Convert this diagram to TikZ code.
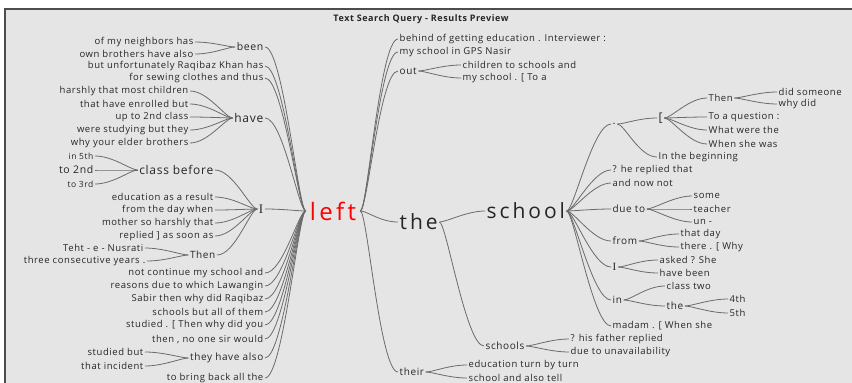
\documentclass[tikz,border=0pt]{standalone}
\usepackage{fontspec}
\setmainfont{Open Sans}
\newfontfamily\wa[LetterSpace=6]{Open Sans}
\newfontfamily\wb[LetterSpace=14]{Open Sans}
\newfontfamily\serI{Liberation Serif}
\tikzset{
  lt/.style={anchor=east},
  rt/.style={anchor=west},
  sz/.style={font=\wa\fontsize{#1}{#1}\selectfont},
  bg/.style={font=\wb\fontsize{#1}{#1}\selectfont},
  si/.style={font=\serI\fontsize{#1}{#1}\selectfont},
  lb/.style={out=180,in=0,out distance=7pt,in distance=18pt},
  rb/.style={out=0,in=180,out distance=7pt,in distance=18pt},
}
\begin{document}
\begin{tikzpicture}[x=1pt,y=-1pt,
  every node/.style={inner sep=1.5pt,text=black!85,font=\wa\fontsize{9.5}{10}\selectfont},
  every edge/.style={draw=black!58,line width=0.8pt}]
	\useasboundingbox (0,0) rectangle (852,383);
	\fill[white] (0,0) rectangle (852,383);
	\fill[black!10] (5,9) rectangle (852,383);
	\draw[black!70,line width=1.2pt] (5,383) -- (5,9) -- (852,9);

	\node[font=\wa\bfseries\fontsize{9}{9}\selectfont] at (421,19) (TQ) {Text Search Query - Results Preview};

	\node[bg=24,text=red,inner xsep=4pt] at (333,211) (L) {left};

	\node[lt,sz=10.5] at (265,47) (B) {been};
	\node[lt] at (195,42) (B1) {of my neighbors has};
	\node[lt] at (195,54) (B2) {own brothers have also};
	\node[lt] at (265,66) (U) {but unfortunately Raqibaz Khan has};
	\node[lt] at (265,78) (F) {for sewing clothes and thus};
	\node[lt,sz=12] at (265,118) (H) {have};
	\node[lt] at (190,91) (H1) {harshly that most children};
	\node[lt] at (190,104) (H2) {that have enrolled but};
	\node[lt] at (190,117) (H3) {up to 2nd class};
	\node[lt] at (190,130) (H4) {were studying but they};
	\node[lt] at (190,143) (H5) {why your elder brothers};
	\node[lt,si=13] at (265,209) (I) {I};
	\node[lt,sz=12] at (215,170) (C) {class before};
	\node[lt,sz=8.5] at (95,156) (C1) {in 5th};
	\node[lt,sz=10.5] at (95,170) (C2) {to 2nd};
	\node[lt,sz=8.5] at (95,184) (C3) {to 3rd};
	\node[lt] at (215,197) (I1) {education as a result};
	\node[lt] at (215,210) (I2) {from the day when};
	\node[lt] at (215,223) (I3) {mother so harshly that};
	\node[lt] at (215,236) (I4) {replied ] as soon as};
	\node[lt,sz=10] at (217,255) (T) {Then};
	\node[lt] at (145,248) (T1) {Teht - e - Nusrati};
	\node[lt] at (147,261) (T2) {three consecutive years .};
	\node[lt] at (265,273) (N1) {not continue my school and};
	\node[lt] at (265,286) (N2) {reasons due to which Lawangin};
	\node[lt] at (265,299) (N3) {Sabir then why did Raqibaz};
	\node[lt] at (265,312) (N4) {schools but all of them};
	\node[lt] at (265,325) (N5) {studied . [ Then why did you};
	\node[lt] at (265,339) (N6) {then , no one sir would};
	\node[lt,sz=10] at (265,358) (Y) {they have also};
	\node[lt] at (145,352) (Y1) {studied but};
	\node[lt] at (145,366) (Y2) {that incident};
	\node[lt] at (265,378) (K) {to bring back all the};

	\node[rt] at (398,39) (R1) {behind of getting education . Interviewer :};
	\node[rt] at (398,52) (R2) {my school in GPS Nasir};
	\node[rt,sz=10] at (398,71) (O) {out};
	\node[rt] at (461,65) (O1) {children to schools and};
	\node[rt] at (461,78) (O2) {my school . [ To a};
	\node[rt,bg=21] at (398,222) (TH) {the};
	\node[rt,sz=10] at (398,372) (W) {their};
	\node[rt] at (467,365) (W1) {education turn by turn};
	\node[rt] at (467,378) (W2) {school and also tell};

	\node[rt,bg=21] at (485,211) (S) {school};
	\node[rt,sz=10] at (484,346) (SS) {schools};
	\node[rt] at (569,339) (SS1) {? his father replied};
	\node[rt] at (569,352) (SS2) {due to unavailability};

	\node[rt,sz=11] at (611,124) (D) {.};
	\node[rt,sz=12] at (657,118) (D1) {[};
	\node[rt] at (707,98) (D11) {Then};
	\node[rt] at (777,92) (D111) {did someone};
	\node[rt] at (777,104) (D112) {why did};
	\node[rt] at (707,117) (D12) {To a question :};
	\node[rt] at (707,130) (D13) {What were the};
	\node[rt] at (707,144) (D14) {When she was};
	\node[rt] at (657,157) (D2) {In the beginning};
	\node[rt] at (611,170) (S2) {? he replied that};
	\node[rt] at (611,183) (S3) {and now not};
	\node[rt,sz=10] at (611,209) (S4) {due to};
	\node[rt] at (692,196) (S41) {some};
	\node[rt] at (692,209) (S42) {teacher};
	\node[rt] at (692,222) (S43) {un -};
	\node[rt,sz=10] at (611,241) (S5) {from};
	\node[rt] at (679,234) (S51) {that day};
	\node[rt] at (679,247) (S52) {there . [ Why};
	\node[rt,si=11] at (611,267) (S6) {I};
	\node[rt] at (658,260) (S61) {asked ? She};
	\node[rt] at (658,273) (S62) {have been};
	\node[rt,sz=10] at (611,300) (S7) {in};
	\node[rt] at (665,286) (S71) {class two};
	\node[rt,sz=10] at (665,306) (S72) {the};
	\node[rt] at (728,299) (S721) {4th};
	\node[rt] at (728,313) (S722) {5th};
	\node[rt] at (611,326) (S8) {madam . [ When she};

	\draw[lb,line width=1.1pt] (L.west) edge (B.east) edge (U.east) edge (F.east) edge (H.east) edge (I.east)
		edge (N1.east) edge (N2.east) edge (N3.east) edge (N4.east) edge (N5.east) edge (N6.east) edge (Y.east) edge (K.east);
	\draw[lb] (B.west) edge (B1.east) edge (B2.east);
	\draw[lb] (H.west) edge (H1.east) edge (H2.east) edge (H3.east) edge (H4.east) edge (H5.east);
	\draw[lb] (I.west) edge (C.east) edge (I1.east) edge (I2.east) edge (I3.east) edge (I4.east) edge (T.east);
	\draw[lb] (C.west) edge (C1.east) edge (C2.east) edge (C3.east);
	\draw[lb] (T.west) edge (T1.east) edge (T2.east);
	\draw[lb] (Y.west) edge (Y1.east) edge (Y2.east);

	\draw[rb,line width=1.1pt] (L.east) edge (R1.west) edge (R2.west) edge (O.west) edge (TH.west) edge (W.west);
	\draw[rb] (O.east) edge (O1.west) edge (O2.west);
	\draw[rb] (W.east) edge (W1.west) edge (W2.west);
	\draw[rb] (TH.east) edge (S.west) edge (SS.west);
	\draw[rb] (SS.east) edge (SS1.west) edge (SS2.west);
	\draw[rb] (S.east) edge (D.west) edge (S2.west) edge (S3.west) edge (S4.west) edge (S5.west) edge (S6.west) edge (S7.west) edge (S8.west);
	\draw[rb] (D.east) edge (D1.west) edge (D2.west);
	\draw[rb] (D1.east) edge (D11.west) edge (D12.west) edge (D13.west) edge (D14.west);
	\draw[rb] (D11.east) edge (D111.west) edge (D112.west);
	\draw[rb] (S4.east) edge (S41.west) edge (S42.west) edge (S43.west);
	\draw[rb] (S5.east) edge (S51.west) edge (S52.west);
	\draw[rb] (S6.east) edge (S61.west) edge (S62.west);
	\draw[rb] (S7.east) edge (S71.west) edge (S72.west);
	\draw[rb] (S72.east) edge (S721.west) edge (S722.west);
\end{tikzpicture}
\end{document}
